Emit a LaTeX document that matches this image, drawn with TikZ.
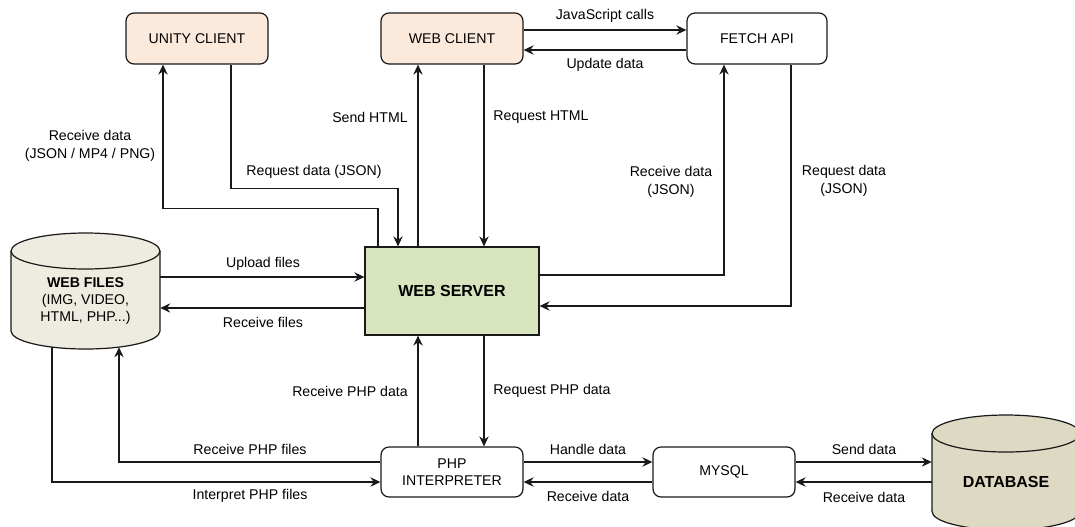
\documentclass[tikz,border=0pt]{standalone}
\usepackage{fontspec}
\setmainfont{Liberation Sans}
\usetikzlibrary{arrows.meta,calc}
\definecolor{clientfill}{RGB}{251,233,220}
\definecolor{serverfill}{RGB}{215,228,189}
\definecolor{filesfill}{RGB}{238,236,225}
\definecolor{dbfill}{RGB}{221,217,194}
\definecolor{linec}{RGB}{25,25,25}
\newcommand{\lblfont}{\fontsize{10.6pt}{13pt}\selectfont}
\newcommand{\bigfont}{\fontsize{12pt}{14pt}\selectfont\bfseries}
\begin{document}
\begin{tikzpicture}[x=0.75pt,y=-0.75pt,
  box/.style={draw=linec, rounded corners=6pt, line width=0.9pt, minimum width=106.5pt,
    minimum height=38.25pt, inner sep=0pt, align=center, font=\lblfont, text=black},
  lab/.style={align=center, inner sep=0pt, font=\lblfont, text=black},
  arr/.style={draw=linec, line width=0.9pt, -{Stealth[length=7.5pt,width=7pt,inset=2.5pt]}},
  cyl/.style={draw=linec, line width=0.9pt}]
\useasboundingbox (0,0) rectangle (1075,526);

% cylinders
\path[cyl, fill=filesfill] (11,251) -- (11,331) .. controls (11,340.94) and (44.35,349) .. (85.5,349)
  .. controls (126.65,349) and (160,340.94) .. (160,331) -- (160,251)
  .. controls (160,241.06) and (126.65,233) .. (85.5,233)
  .. controls (44.35,233) and (11,241.06) .. (11,251) -- cycle;
\path[cyl] (11,251) .. controls (11,260.94) and (44.35,269) .. (85.5,269)
  .. controls (126.65,269) and (160,260.94) .. (160,251);
\path[cyl, fill=dbfill] (932,433.5) -- (932,511.5) .. controls (932,521.72) and (965.13,530) .. (1006,530)
  .. controls (1046.87,530) and (1080,521.72) .. (1080,511.5) -- (1080,433.5)
  .. controls (1080,423.28) and (1046.87,415) .. (1006,415)
  .. controls (965.13,415) and (932,423.28) .. (932,433.5) -- cycle;
\path[cyl] (932,433.5) .. controls (932,443.72) and (965.13,452) .. (1006,452)
  .. controls (1046.87,452) and (1080,443.72) .. (1080,433.5);

% nodes
\node[box, fill=clientfill] (unity) at (197,38.5) {UNITY CLIENT};
\node[box, fill=clientfill] (webclient) at (452,38.5) {WEB CLIENT};
\node[box, fill=white, minimum width=105pt] (fetch) at (757,38.5) {FETCH API};
\node[box, fill=serverfill, rounded corners=0pt, minimum width=130.5pt, minimum height=66pt,
  font=\bigfont] (webserver) at (452,291) {WEB SERVER};
\node[box, fill=white, minimum height=37.5pt] (php) at (452,472) {PHP\\INTERPRETER};
\node[box, fill=white, minimum height=37.5pt] (mysql) at (724,472) {MYSQL};
\node[lab, minimum width=111.75pt, minimum height=72pt] (webfiles) at (85.5,301)
  {\textbf{WEB FILES}\\(IMG, VIDEO,\\HTML, PHP...)};
\node[lab, minimum width=111pt, minimum height=72pt, font=\bigfont] (db) at (1006,482) {DATABASE};

% connectors: unity
\draw[arr] ($(unity.south)+(34,0)$) -- ++(0,124) -| ($(webserver.north)+(-54,0)$);
\draw[arr] ($(webserver.north)+(-74,0)$) -- ++(0,-38) -| ($(unity.south)+(-34,0)$);
\node[lab] (l1) at (90,146) {Receive data\\(JSON / MP4 / PNG)};
\node[lab] (l2) at (314,172) {Request data (JSON)};

% web client
\draw[arr] ($(webserver.north)+(-34,0)$) -- ($(webclient.south)+(-34,0)$);
\draw[arr] ($(webclient.south)+(32,0)$) -- ($(webserver.north)+(32,0)$);
\node[lab] (l3) at (370,117) {Send HTML};
\node[lab] (l4) at (541,117) {Request HTML};

% fetch api
\draw[arr] ($(webclient.east)+(0,-8.5)$) -- ($(fetch.west)+(0,-8.5)$);
\draw[arr] ($(fetch.west)+(0,11.5)$) -- ($(webclient.east)+(0,11.5)$);
\node[lab] (l5) at (605,16) {JavaScript calls};
\node[lab] (l6) at (605,65) {Update data};
\draw[arr] ($(webserver.east)+(0,-16)$) -| ($(fetch.south)+(-33,0)$);
\draw[arr] ($(fetch.south)+(34,0)$) |- ($(webserver.east)+(0,15)$);
\node[lab] (l7) at (671,182) {Receive data\\(JSON)};
\node[lab] (l8) at (844,181) {Request data\\(JSON)};

% web files
\draw[arr] ($(webfiles.east)+(0,-24)$) -- ($(webserver.west)+(0,-14)$);
\draw[arr] ($(webserver.west)+(0,17)$) -- ($(webfiles.east)+(0,7)$);
\node[lab] (l9) at (263,264) {Upload files};
\node[lab] (l10) at (263,322) {Receive files};

% php
\draw[arr] ($(php.north)+(-34,0)$) -- ($(webserver.south)+(-34,0)$);
\draw[arr] ($(webserver.south)+(32,0)$) -- ($(php.north)+(32,0)$);
\node[lab] (l11) at (350,391) {Receive PHP data};
\node[lab] (l12) at (552,391) {Request PHP data};
\draw[arr] ($(php.west)+(0,-10)$) -| ($(webfiles.south)+(33.5,-2)$);
\draw[arr] ($(webfiles.south)+(-33.5,-2)$) |- ($(php.west)+(0,10)$);
\node[lab] (l13) at (250,449) {Receive PHP files};
\node[lab] (l14) at (250,496) {Interpret PHP files};

% mysql
\draw[arr] ($(php.east)+(0,-10)$) -- ($(mysql.west)+(0,-10)$);
\draw[arr] ($(mysql.west)+(0,10)$) -- ($(php.east)+(0,10)$);
\node[lab] (l15) at (588,449) {Handle data};
\node[lab] (l16) at (588,496) {Receive data};
\draw[arr] ($(mysql.east)+(0,-10)$) -- ($(db.west)+(0,-20)$);
\draw[arr] (db.west) -- ($(mysql.east)+(0,10)$);
\node[lab] (l17) at (864,449) {Send data};
\node[lab] (l18) at (864,497) {Receive data};
\end{tikzpicture}
\end{document}
